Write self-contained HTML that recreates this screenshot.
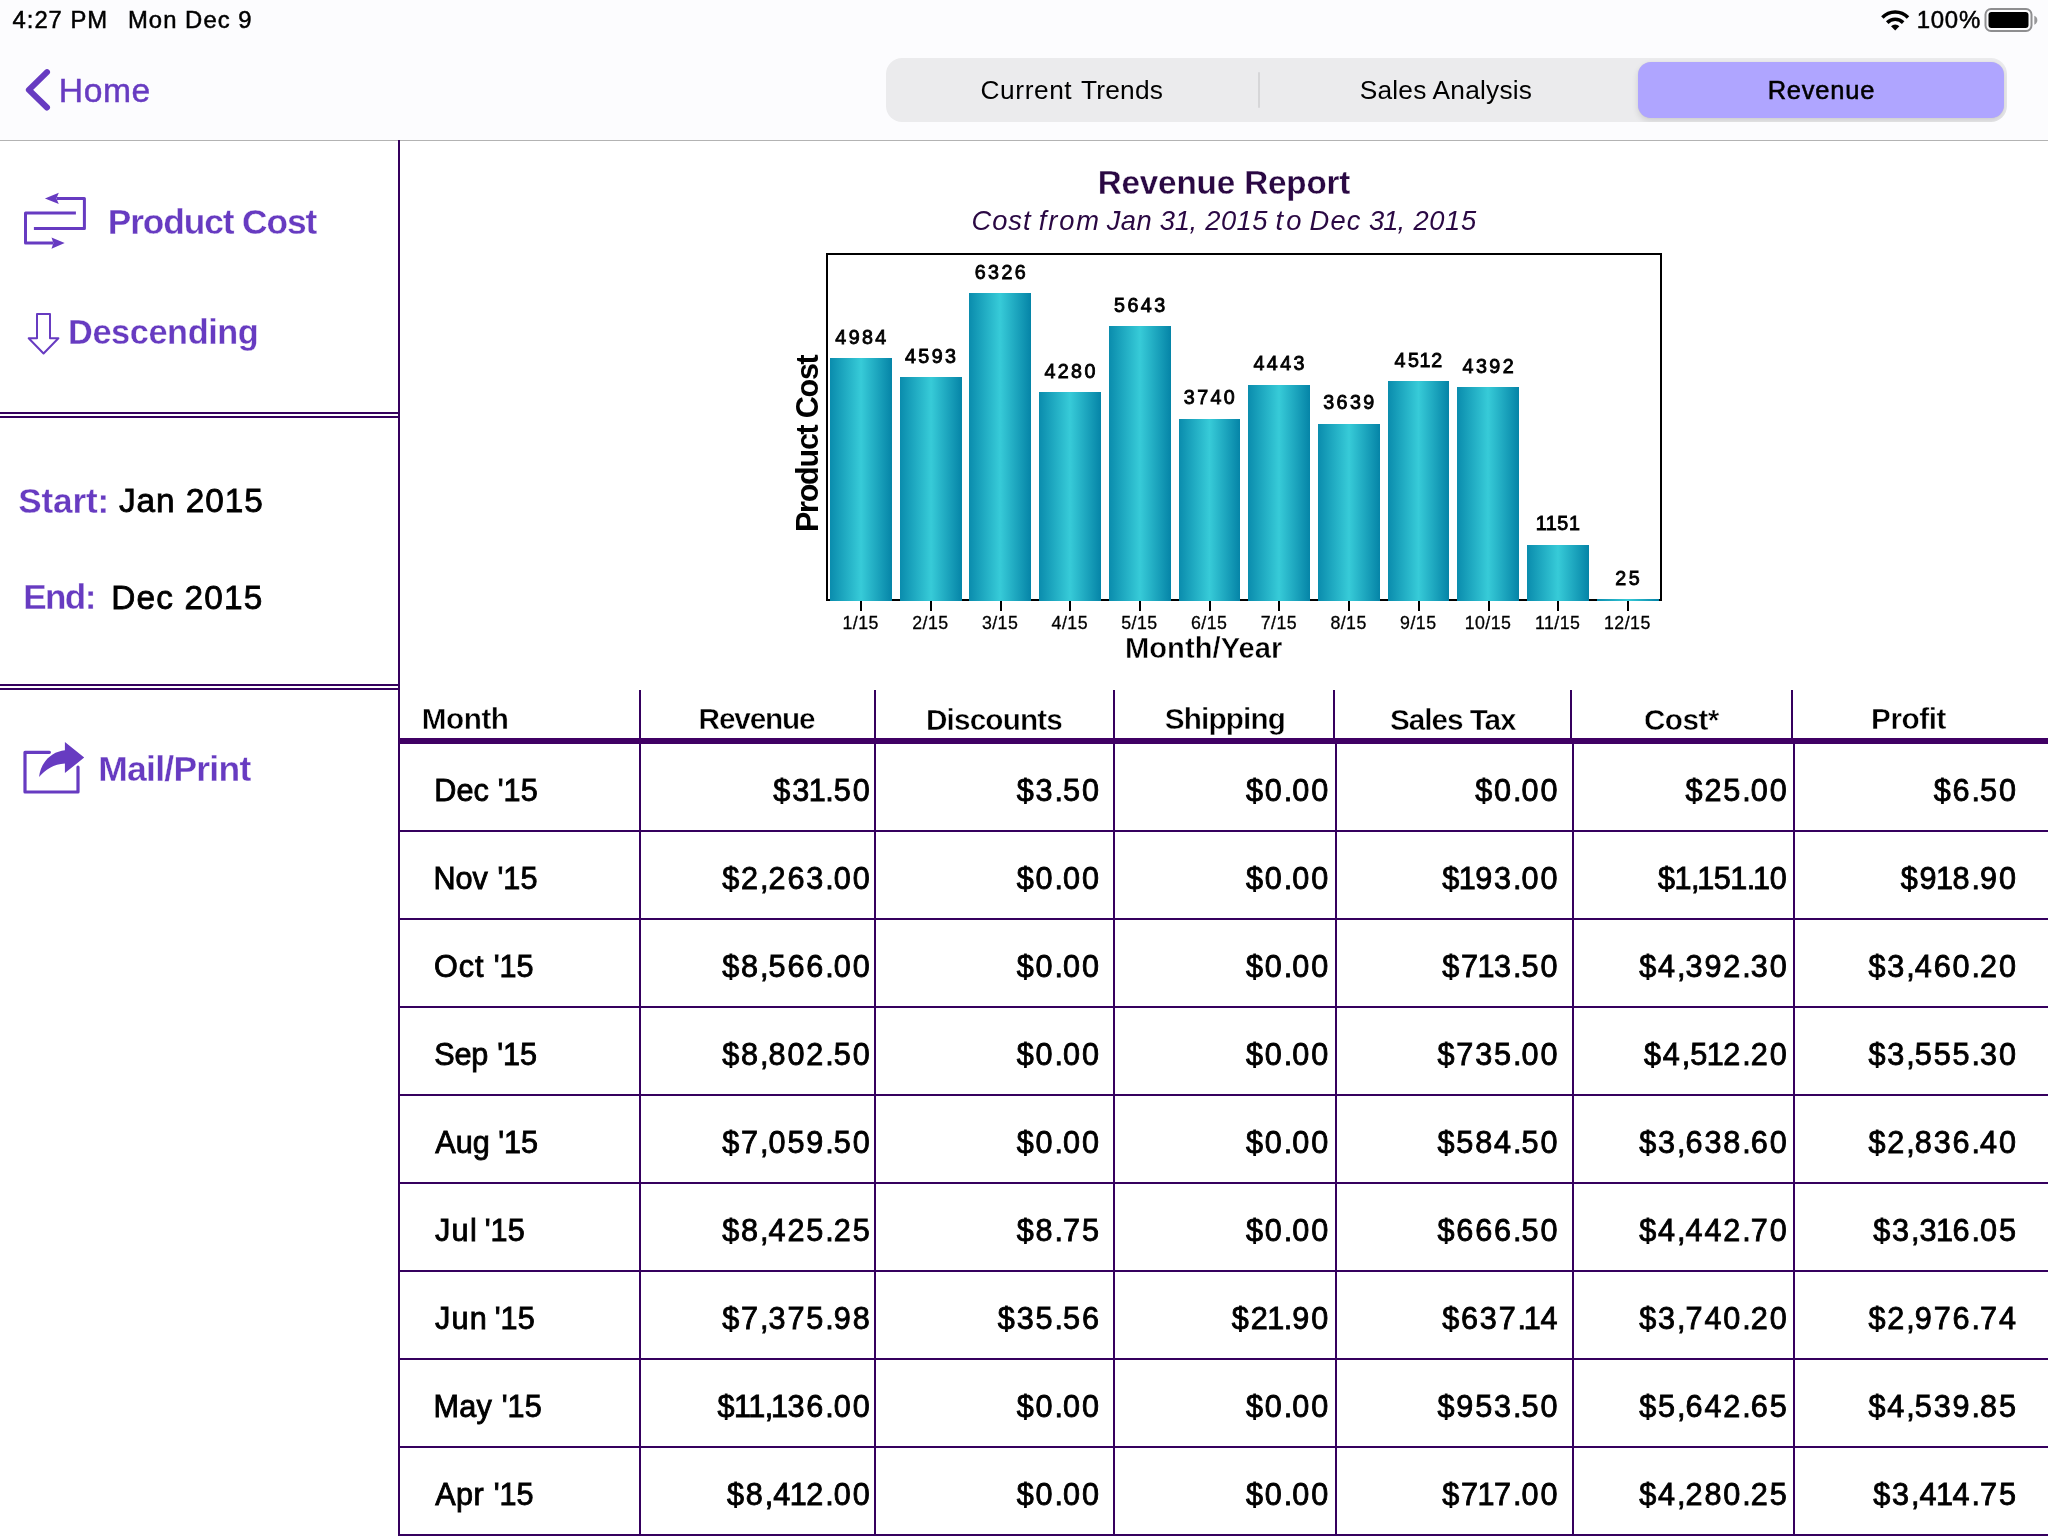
<!DOCTYPE html>
<html lang="en">
<head>
<meta charset="utf-8">
<title>Revenue Report</title>
<style>
html,body{margin:0;padding:0}
body{width:2048px;height:1536px;position:relative;overflow:hidden;background:#fff;font-family:"Liberation Sans",sans-serif;color:#000}
#app{position:absolute;left:0;top:0;width:2048px;height:1536px;will-change:transform}
.t{position:absolute;white-space:pre;line-height:1}
.ln{position:absolute;background:#35005e}
.nav{position:absolute;left:0;top:0;width:2048px;height:140px;background:#fcfcfe}
.navline{position:absolute;left:0;top:140px;width:2048px;height:1px;background:#b3b3b3}
.seg{position:absolute;left:886px;top:58px;width:1121px;height:64px;border-radius:16px;background:#ebebed;overflow:hidden}
.segsel{position:absolute;left:752px;top:4px;width:366px;height:56px;border-radius:13px;background:#afa5ff;box-shadow:0 3px 6px rgba(0,0,0,.12),0 0 1px rgba(0,0,0,.1)}
.segdiv{position:absolute;left:372px;top:14px;width:2px;height:36px;background:#d6d6d8;border-radius:1px}
.c{font-size:30.60px;letter-spacing:0;-webkit-text-stroke:0.85px #000}
.n{text-align:right;letter-spacing:1.85px}
.n i{font-style:normal;margin:0 -2.37px}
.n b{font-weight:normal;margin-right:-1.75px}
.vl i{font-style:normal;margin:0 -1.7px}
.bar{position:absolute;background:linear-gradient(90deg,#0a8cad 0%,#37cbd8 50%,#0584a7 100%)}
.tk{position:absolute;background:#000;top:601px;width:2px;height:10px}
.th{background:#400064}
.xl{width:80px;text-align:center;font-size:17.8px;letter-spacing:0.45px;-webkit-text-stroke:0.3px #000}
.vl{width:120px;text-align:center;font-size:19.70px;letter-spacing:2.40px;-webkit-text-stroke:0.85px #000}
.yl{transform:rotate(-90deg);transform-origin:0 0;font-weight:bold}
svg{position:absolute;overflow:visible}
</style>
</head>
<body>
<div id="app">
<div class="nav"></div><div class="navline"></div>
<div class="seg"><div class="segdiv"></div><div class="segsel"></div></div>
<div class="ln" style="left:398px;top:140px;width:2px;height:1396px"></div>
<div class="ln" style="left:0;top:412px;width:398px;height:2px"></div>
<div class="ln" style="left:0;top:416px;width:398px;height:2px"></div>
<div class="ln" style="left:0;top:684px;width:398px;height:2px"></div>
<div class="ln" style="left:0;top:688px;width:398px;height:2px"></div>
<div class="ln" style="left:639px;top:690px;width:2px;height:50px"></div>
<div class="ln" style="left:874px;top:690px;width:2px;height:50px"></div>
<div class="ln" style="left:1113px;top:690px;width:2px;height:50px"></div>
<div class="ln" style="left:1333px;top:690px;width:2px;height:50px"></div>
<div class="ln" style="left:1570px;top:690px;width:2px;height:50px"></div>
<div class="ln" style="left:1791px;top:690px;width:2px;height:50px"></div>
<div class="ln th" style="left:399px;top:738px;width:1649px;height:6px"></div>
<div class="ln" style="left:639px;top:744px;width:2px;height:792px"></div>
<div class="ln" style="left:874px;top:744px;width:2px;height:792px"></div>
<div class="ln" style="left:1113px;top:744px;width:2px;height:792px"></div>
<div class="ln" style="left:1335px;top:744px;width:2px;height:792px"></div>
<div class="ln" style="left:1572px;top:744px;width:2px;height:792px"></div>
<div class="ln" style="left:1793px;top:744px;width:2px;height:792px"></div>
<div class="ln" style="left:399px;top:830px;width:1649px;height:2px"></div>
<div class="ln" style="left:399px;top:918px;width:1649px;height:2px"></div>
<div class="ln" style="left:399px;top:1006px;width:1649px;height:2px"></div>
<div class="ln" style="left:399px;top:1094px;width:1649px;height:2px"></div>
<div class="ln" style="left:399px;top:1182px;width:1649px;height:2px"></div>
<div class="ln" style="left:399px;top:1270px;width:1649px;height:2px"></div>
<div class="ln" style="left:399px;top:1358px;width:1649px;height:2px"></div>
<div class="ln" style="left:399px;top:1446px;width:1649px;height:2px"></div>
<div class="ln" style="left:399px;top:1534px;width:1649px;height:2px"></div>
<div style="position:absolute;left:826px;top:253px;width:832px;height:344px;border:2px solid #000"></div>
<div class="bar" style="left:830.00px;top:358.23px;width:61.90px;height:242.77px"></div>
<div class="tk" style="left:860.20px"></div>
<div class="t xl" style="left:820.70px;top:614.7px">1/15</div>
<div class="t vl" style="left:802.00px;top:327.99px">4984</div>
<div class="bar" style="left:899.70px;top:377.24px;width:61.90px;height:223.76px"></div>
<div class="tk" style="left:929.90px"></div>
<div class="t xl" style="left:890.40px;top:614.7px">2/15</div>
<div class="t vl" style="left:871.70px;top:346.99px">4593</div>
<div class="bar" style="left:969.40px;top:293.00px;width:61.90px;height:308.00px"></div>
<div class="tk" style="left:999.60px"></div>
<div class="t xl" style="left:960.10px;top:614.7px">3/15</div>
<div class="t vl" style="left:941.40px;top:262.75px">6326</div>
<div class="bar" style="left:1039.10px;top:392.45px;width:61.90px;height:208.55px"></div>
<div class="tk" style="left:1069.30px"></div>
<div class="t xl" style="left:1029.80px;top:614.7px">4/15</div>
<div class="t vl" style="left:1011.10px;top:362.21px">4280</div>
<div class="bar" style="left:1108.80px;top:326.20px;width:61.90px;height:274.80px"></div>
<div class="tk" style="left:1139.00px"></div>
<div class="t xl" style="left:1099.50px;top:614.7px">5/15</div>
<div class="t vl" style="left:1080.80px;top:295.95px">5643</div>
<div class="bar" style="left:1178.50px;top:418.70px;width:61.90px;height:182.30px"></div>
<div class="tk" style="left:1208.70px"></div>
<div class="t xl" style="left:1169.20px;top:614.7px">6/15</div>
<div class="t vl" style="left:1150.50px;top:388.46px">3740</div>
<div class="bar" style="left:1248.20px;top:384.53px;width:61.90px;height:216.47px"></div>
<div class="tk" style="left:1278.40px"></div>
<div class="t xl" style="left:1238.90px;top:614.7px">7/15</div>
<div class="t vl" style="left:1220.20px;top:354.28px">4443</div>
<div class="bar" style="left:1317.90px;top:423.61px;width:61.90px;height:177.39px"></div>
<div class="tk" style="left:1348.10px"></div>
<div class="t xl" style="left:1308.60px;top:614.7px">8/15</div>
<div class="t vl" style="left:1289.90px;top:393.37px">3639</div>
<div class="bar" style="left:1387.60px;top:381.18px;width:61.90px;height:219.82px"></div>
<div class="tk" style="left:1417.80px"></div>
<div class="t xl" style="left:1378.30px;top:614.7px">9/15</div>
<div class="t vl" style="left:1359.60px;top:350.93px">45<i>1</i>2</div>
<div class="bar" style="left:1457.30px;top:387.01px;width:61.90px;height:213.99px"></div>
<div class="tk" style="left:1487.50px"></div>
<div class="t xl" style="left:1448.00px;top:614.7px">10/15</div>
<div class="t vl" style="left:1429.30px;top:356.76px">4392</div>
<div class="bar" style="left:1527.00px;top:544.55px;width:61.90px;height:56.45px"></div>
<div class="tk" style="left:1557.20px"></div>
<div class="t xl" style="left:1517.70px;top:614.7px">11/15</div>
<div class="t vl" style="left:1499.00px;top:514.30px"><i>1</i><i>1</i>5<i>1</i></div>
<div class="bar" style="left:1596.70px;top:599.20px;width:61.90px;height:1.80px"></div>
<div class="tk" style="left:1626.90px"></div>
<div class="t xl" style="left:1587.40px;top:614.7px">12/15</div>
<div class="t vl" style="left:1568.70px;top:568.95px">25</div>
<svg style="left:0;top:0" width="60" height="140"><path d="M47 72.1 L28.9 89.8 L47 107.5" fill="none" stroke="#673bc1" stroke-width="6" stroke-linecap="round" stroke-linejoin="round"/></svg>
<svg style="left:0;top:180px" width="100" height="80"><g fill="none" stroke="#673bc1" stroke-width="3" stroke-linejoin="round"><path d="M56.6 18.4 H84.4 V48.5 H33.9"/><path d="M75.9 32.95 H25.5 V63.1 H53.2"/></g><g fill="#673bc1"><path d="M44.9 18.45 L58.8 12.8 L56.4 18.45 L58.8 24.05 Z"/><path d="M64.7 63.1 L51.5 57.4 L53.4 63.1 L51.5 68.75 Z"/></g></svg>
<svg style="left:0;top:300px" width="80" height="70"><path d="M37 13.9 H50 V38.3 H58.4 L43.55 53.5 L28.7 38.3 H37 Z" fill="none" stroke="#673bc1" stroke-width="2" stroke-linejoin="round"/></svg>
<svg style="left:0;top:730px" width="100" height="80"><path d="M49.4 22.3 H25 V62 H78 V37.2" fill="none" stroke="#673bc1" stroke-width="3.2" stroke-linecap="round" stroke-linejoin="round"/><path d="M84.2 27.6 L64.9 12 V20.3 C52 21.5 40.5 32 39.05 47.1 C45 39.5 54 33.8 64.9 33.4 V43 Z" fill="#673bc1"/></svg>
<svg style="left:1880.15px;top:7.66px" width="30.4" height="25.35" viewBox="0 0 32 26" preserveAspectRatio="none"><g fill="none" stroke="#000" stroke-width="3.7" stroke-linecap="butt"><path d="M2.5 9.8 A19 19 0 0 1 29.5 9.8"/><path d="M7.6 15 A11.8 11.8 0 0 1 24.4 15"/></g><path d="M16 23.1 L11.6 18.7 A6.2 6.2 0 0 1 20.4 18.7 Z" fill="#000"/></svg>
<svg style="left:1984.1px;top:8px" width="60" height="26"><rect x="1.5" y="1" width="46" height="22" rx="5.5" fill="none" stroke="#8e8e90" stroke-width="2"/><rect x="4.5" y="4" width="40" height="16" rx="3" fill="#000"/><path d="M50.3 7.8 C54.4 9.3 54.4 15.2 50.3 16.7 Z" fill="#98989a"/></svg>
<div class="t yl" style="left:791.51px;top:531.62px;font-size:30.52px;letter-spacing:-1.254px">Product Cost</div>
<div class="t" style="left:12.55px;top:8.06px;font-size:23.84px;letter-spacing:0.978px;color:#000;-webkit-text-stroke:0.50px currentColor;">4:27 PM</div>
<div class="t" style="left:127.92px;top:8.06px;font-size:23.84px;letter-spacing:1.059px;color:#000;-webkit-text-stroke:0.50px currentColor;">Mon Dec 9</div>
<div class="t" style="left:1916.71px;top:7.83px;font-size:23.98px;letter-spacing:0.751px;color:#000;-webkit-text-stroke:0.50px currentColor;">100%</div>
<div class="t" style="left:58.87px;top:73.57px;font-size:33.65px;letter-spacing:0.545px;color:#673bc1;-webkit-text-stroke:0.45px currentColor;">Home</div>
<div class="t" style="left:980.57px;top:76.57px;font-size:26.31px;letter-spacing:0.570px;color:#000;">Current</div>
<div class="t" style="left:1081.00px;top:76.57px;font-size:26.31px;letter-spacing:0.213px;color:#000;">Trends</div>
<div class="t" style="left:1359.72px;top:76.57px;font-size:26.31px;letter-spacing:0.204px;color:#000;">Sales Analysis</div>
<div class="t" style="left:1767.66px;top:77.65px;font-size:25.51px;letter-spacing:0.780px;color:#000;-webkit-text-stroke:0.55px currentColor;">Revenue</div>
<div class="t" style="left:107.70px;top:203.69px;font-size:35.32px;letter-spacing:-1.100px;color:#673bc1;font-weight:bold;-webkit-text-stroke:0.30px #fff;">Product Cost</div>
<div class="t" style="left:68.09px;top:315.41px;font-size:34.30px;letter-spacing:-0.406px;color:#673bc1;font-weight:bold;-webkit-text-stroke:0.30px #fff;">Descending</div>
<div class="t" style="left:18.27px;top:483.09px;font-size:35.10px;letter-spacing:-0.119px;color:#673bc1;font-weight:bold;-webkit-text-stroke:0.30px #fff;">Start:</div>
<div class="t" style="left:118.91px;top:483.96px;font-size:33.36px;letter-spacing:0.944px;color:#000;-webkit-text-stroke:0.80px currentColor;">Jan 2015</div>
<div class="t" style="left:23.28px;top:579.34px;font-size:35.10px;letter-spacing:-1.613px;color:#673bc1;font-weight:bold;-webkit-text-stroke:0.30px #fff;">End:</div>
<div class="t" style="left:111.34px;top:580.81px;font-size:33.36px;letter-spacing:1.176px;color:#000;-webkit-text-stroke:0.80px currentColor;">Dec 2015</div>
<div class="t" style="left:98.33px;top:751.76px;font-size:35.47px;letter-spacing:-0.752px;color:#673bc1;font-weight:bold;-webkit-text-stroke:0.30px #fff;">Mail/Print</div>
<div class="t" style="left:1097.66px;top:165.60px;font-size:33.14px;letter-spacing:-0.100px;color:#2a0843;font-weight:bold;-webkit-text-stroke:0.30px #fff;">Revenue Report</div>
<div class="t" style="left:971.56px;top:206.51px;font-size:27.33px;letter-spacing:0.916px;color:#2a0843;font-style:italic;">Cost</div>
<div class="t" style="left:1038.86px;top:206.51px;font-size:27.33px;letter-spacing:1.822px;color:#2a0843;font-style:italic;">from</div>
<div class="t" style="left:1106.67px;top:206.51px;font-size:27.33px;letter-spacing:0.507px;color:#2a0843;font-style:italic;">Jan</div>
<div class="t" style="left:1159.81px;top:206.51px;font-size:27.33px;letter-spacing:-0.308px;color:#2a0843;font-style:italic;">31,</div>
<div class="t" style="left:1205.29px;top:206.51px;font-size:27.33px;letter-spacing:0.421px;color:#2a0843;font-style:italic;">2015</div>
<div class="t" style="left:1275.62px;top:206.51px;font-size:27.33px;letter-spacing:3.033px;color:#2a0843;font-style:italic;">to</div>
<div class="t" style="left:1309.52px;top:206.51px;font-size:27.33px;letter-spacing:1.175px;color:#2a0843;font-style:italic;">Dec</div>
<div class="t" style="left:1369.05px;top:206.51px;font-size:27.33px;letter-spacing:-0.952px;color:#2a0843;font-style:italic;">31,</div>
<div class="t" style="left:1413.48px;top:206.51px;font-size:27.33px;letter-spacing:0.612px;color:#2a0843;font-style:italic;">2015</div>
<div class="t" style="left:1124.98px;top:634.17px;font-size:29.14px;letter-spacing:0.041px;color:#000;font-weight:bold;-webkit-text-stroke:0.45px #fff;">Month/Year</div>
<div class="t" style="left:421.87px;top:703.88px;font-size:29.72px;letter-spacing:-0.506px;color:#000;font-weight:bold;-webkit-text-stroke:0.45px #fff;">Month</div>
<div class="t" style="left:698.61px;top:703.59px;font-size:29.72px;letter-spacing:-1.143px;color:#000;font-weight:bold;-webkit-text-stroke:0.45px #fff;">Revenue</div>
<div class="t" style="left:926.01px;top:704.61px;font-size:29.72px;letter-spacing:-0.857px;color:#000;font-weight:bold;-webkit-text-stroke:0.45px #fff;">Discounts</div>
<div class="t" style="left:1164.73px;top:703.61px;font-size:29.72px;letter-spacing:-0.840px;color:#000;font-weight:bold;-webkit-text-stroke:0.45px #fff;">Shipping</div>
<div class="t" style="left:1389.98px;top:704.60px;font-size:29.72px;letter-spacing:-1.042px;color:#000;font-weight:bold;-webkit-text-stroke:0.45px #fff;">Sales Tax</div>
<div class="t" style="left:1643.90px;top:704.63px;font-size:29.72px;letter-spacing:-0.534px;color:#000;font-weight:bold;-webkit-text-stroke:0.45px #fff;">Cost*</div>
<div class="t" style="left:1871.01px;top:703.88px;font-size:29.72px;letter-spacing:-0.436px;color:#000;font-weight:bold;-webkit-text-stroke:0.45px #fff;">Profit</div>
<div class="t" style="left:434.28px;top:775.24px;font-size:30.60px;letter-spacing:0.067px;color:#000;-webkit-text-stroke:0.85px currentColor;">Dec</div>
<div class="t" style="left:497.70px;top:775.24px;font-size:30.60px;letter-spacing:0.095px;color:#000;-webkit-text-stroke:0.85px currentColor;">'15</div>
<div class="t" style="left:433.58px;top:863.24px;font-size:30.60px;letter-spacing:-0.108px;color:#000;-webkit-text-stroke:0.85px currentColor;">Nov</div>
<div class="t" style="left:497.44px;top:863.24px;font-size:30.60px;letter-spacing:0.044px;color:#000;-webkit-text-stroke:0.85px currentColor;">'15</div>
<div class="t" style="left:433.97px;top:951.24px;font-size:30.60px;letter-spacing:1.018px;color:#000;-webkit-text-stroke:0.85px currentColor;">Oct</div>
<div class="t" style="left:493.73px;top:951.24px;font-size:30.60px;letter-spacing:-0.037px;color:#000;-webkit-text-stroke:0.85px currentColor;">'15</div>
<div class="t" style="left:434.35px;top:1039.24px;font-size:30.60px;letter-spacing:-0.314px;color:#000;-webkit-text-stroke:0.85px currentColor;">Sep</div>
<div class="t" style="left:497.13px;top:1039.24px;font-size:30.60px;letter-spacing:0.016px;color:#000;-webkit-text-stroke:0.85px currentColor;">'15</div>
<div class="t" style="left:435.13px;top:1127.24px;font-size:30.60px;letter-spacing:0.143px;color:#000;-webkit-text-stroke:0.85px currentColor;">Aug</div>
<div class="t" style="left:498.13px;top:1127.24px;font-size:30.60px;letter-spacing:0.016px;color:#000;-webkit-text-stroke:0.85px currentColor;">'15</div>
<div class="t" style="left:434.88px;top:1215.24px;font-size:30.60px;letter-spacing:1.361px;color:#000;-webkit-text-stroke:0.85px currentColor;">Jul</div>
<div class="t" style="left:484.69px;top:1215.24px;font-size:30.60px;letter-spacing:0.044px;color:#000;-webkit-text-stroke:0.85px currentColor;">'15</div>
<div class="t" style="left:434.88px;top:1303.24px;font-size:30.60px;letter-spacing:1.225px;color:#000;-webkit-text-stroke:0.85px currentColor;">Jun</div>
<div class="t" style="left:494.69px;top:1303.24px;font-size:30.60px;letter-spacing:0.044px;color:#000;-webkit-text-stroke:0.85px currentColor;">'15</div>
<div class="t" style="left:433.58px;top:1391.24px;font-size:30.60px;letter-spacing:0.238px;color:#000;-webkit-text-stroke:0.85px currentColor;">May</div>
<div class="t" style="left:501.69px;top:1391.24px;font-size:30.60px;letter-spacing:0.044px;color:#000;-webkit-text-stroke:0.85px currentColor;">'15</div>
<div class="t" style="left:435.13px;top:1479.24px;font-size:30.60px;letter-spacing:0.454px;color:#000;-webkit-text-stroke:0.85px currentColor;">Apr</div>
<div class="t" style="left:493.73px;top:1479.24px;font-size:30.60px;letter-spacing:-0.037px;color:#000;-webkit-text-stroke:0.85px currentColor;">'15</div>
<div class="t c n" style="right:1176.50px;top:775.24px">$3<i>1</i><b>.</b>50</div>
<div class="t c n" style="right:947.25px;top:775.24px">$3<b>.</b>50</div>
<div class="t c n" style="right:718.00px;top:775.24px">$0<b>.</b>00</div>
<div class="t c n" style="right:488.75px;top:775.24px">$0<b>.</b>00</div>
<div class="t c n" style="right:259.50px;top:775.24px">$25<b>.</b>00</div>
<div class="t c n" style="right:30.25px;top:775.24px">$6<b>.</b>50</div>
<div class="t c n" style="right:1176.50px;top:863.24px">$2<b>,</b>263<b>.</b>00</div>
<div class="t c n" style="right:947.25px;top:863.24px">$0<b>.</b>00</div>
<div class="t c n" style="right:718.00px;top:863.24px">$0<b>.</b>00</div>
<div class="t c n" style="right:488.75px;top:863.24px">$<i>1</i>93<b>.</b>00</div>
<div class="t c n" style="right:259.50px;top:863.24px">$<i>1</i><b>,</b><i>1</i>5<i>1</i><b>.</b><i>1</i>0</div>
<div class="t c n" style="right:30.25px;top:863.24px">$9<i>1</i>8<b>.</b>90</div>
<div class="t c n" style="right:1176.50px;top:951.24px">$8<b>,</b>566<b>.</b>00</div>
<div class="t c n" style="right:947.25px;top:951.24px">$0<b>.</b>00</div>
<div class="t c n" style="right:718.00px;top:951.24px">$0<b>.</b>00</div>
<div class="t c n" style="right:488.75px;top:951.24px">$7<i>1</i>3<b>.</b>50</div>
<div class="t c n" style="right:259.50px;top:951.24px">$4<b>,</b>392<b>.</b>30</div>
<div class="t c n" style="right:30.25px;top:951.24px">$3<b>,</b>460<b>.</b>20</div>
<div class="t c n" style="right:1176.50px;top:1039.24px">$8<b>,</b>802<b>.</b>50</div>
<div class="t c n" style="right:947.25px;top:1039.24px">$0<b>.</b>00</div>
<div class="t c n" style="right:718.00px;top:1039.24px">$0<b>.</b>00</div>
<div class="t c n" style="right:488.75px;top:1039.24px">$735<b>.</b>00</div>
<div class="t c n" style="right:259.50px;top:1039.24px">$4<b>,</b>5<i>1</i>2<b>.</b>20</div>
<div class="t c n" style="right:30.25px;top:1039.24px">$3<b>,</b>555<b>.</b>30</div>
<div class="t c n" style="right:1176.50px;top:1127.24px">$7<b>,</b>059<b>.</b>50</div>
<div class="t c n" style="right:947.25px;top:1127.24px">$0<b>.</b>00</div>
<div class="t c n" style="right:718.00px;top:1127.24px">$0<b>.</b>00</div>
<div class="t c n" style="right:488.75px;top:1127.24px">$584<b>.</b>50</div>
<div class="t c n" style="right:259.50px;top:1127.24px">$3<b>,</b>638<b>.</b>60</div>
<div class="t c n" style="right:30.25px;top:1127.24px">$2<b>,</b>836<b>.</b>40</div>
<div class="t c n" style="right:1176.50px;top:1215.24px">$8<b>,</b>425<b>.</b>25</div>
<div class="t c n" style="right:947.25px;top:1215.24px">$8<b>.</b>75</div>
<div class="t c n" style="right:718.00px;top:1215.24px">$0<b>.</b>00</div>
<div class="t c n" style="right:488.75px;top:1215.24px">$666<b>.</b>50</div>
<div class="t c n" style="right:259.50px;top:1215.24px">$4<b>,</b>442<b>.</b>70</div>
<div class="t c n" style="right:30.25px;top:1215.24px">$3<b>,</b>3<i>1</i>6<b>.</b>05</div>
<div class="t c n" style="right:1176.50px;top:1303.24px">$7<b>,</b>375<b>.</b>98</div>
<div class="t c n" style="right:947.25px;top:1303.24px">$35<b>.</b>56</div>
<div class="t c n" style="right:718.00px;top:1303.24px">$2<i>1</i><b>.</b>90</div>
<div class="t c n" style="right:488.75px;top:1303.24px">$637<b>.</b><i>1</i>4</div>
<div class="t c n" style="right:259.50px;top:1303.24px">$3<b>,</b>740<b>.</b>20</div>
<div class="t c n" style="right:30.25px;top:1303.24px">$2<b>,</b>976<b>.</b>74</div>
<div class="t c n" style="right:1176.50px;top:1391.24px">$<i>1</i><i>1</i><b>,</b><i>1</i>36<b>.</b>00</div>
<div class="t c n" style="right:947.25px;top:1391.24px">$0<b>.</b>00</div>
<div class="t c n" style="right:718.00px;top:1391.24px">$0<b>.</b>00</div>
<div class="t c n" style="right:488.75px;top:1391.24px">$953<b>.</b>50</div>
<div class="t c n" style="right:259.50px;top:1391.24px">$5<b>,</b>642<b>.</b>65</div>
<div class="t c n" style="right:30.25px;top:1391.24px">$4<b>,</b>539<b>.</b>85</div>
<div class="t c n" style="right:1176.50px;top:1479.24px">$8<b>,</b>4<i>1</i>2<b>.</b>00</div>
<div class="t c n" style="right:947.25px;top:1479.24px">$0<b>.</b>00</div>
<div class="t c n" style="right:718.00px;top:1479.24px">$0<b>.</b>00</div>
<div class="t c n" style="right:488.75px;top:1479.24px">$7<i>1</i>7<b>.</b>00</div>
<div class="t c n" style="right:259.50px;top:1479.24px">$4<b>,</b>280<b>.</b>25</div>
<div class="t c n" style="right:30.25px;top:1479.24px">$3<b>,</b>4<i>1</i>4<b>.</b>75</div>
</div>
</body>
</html>
